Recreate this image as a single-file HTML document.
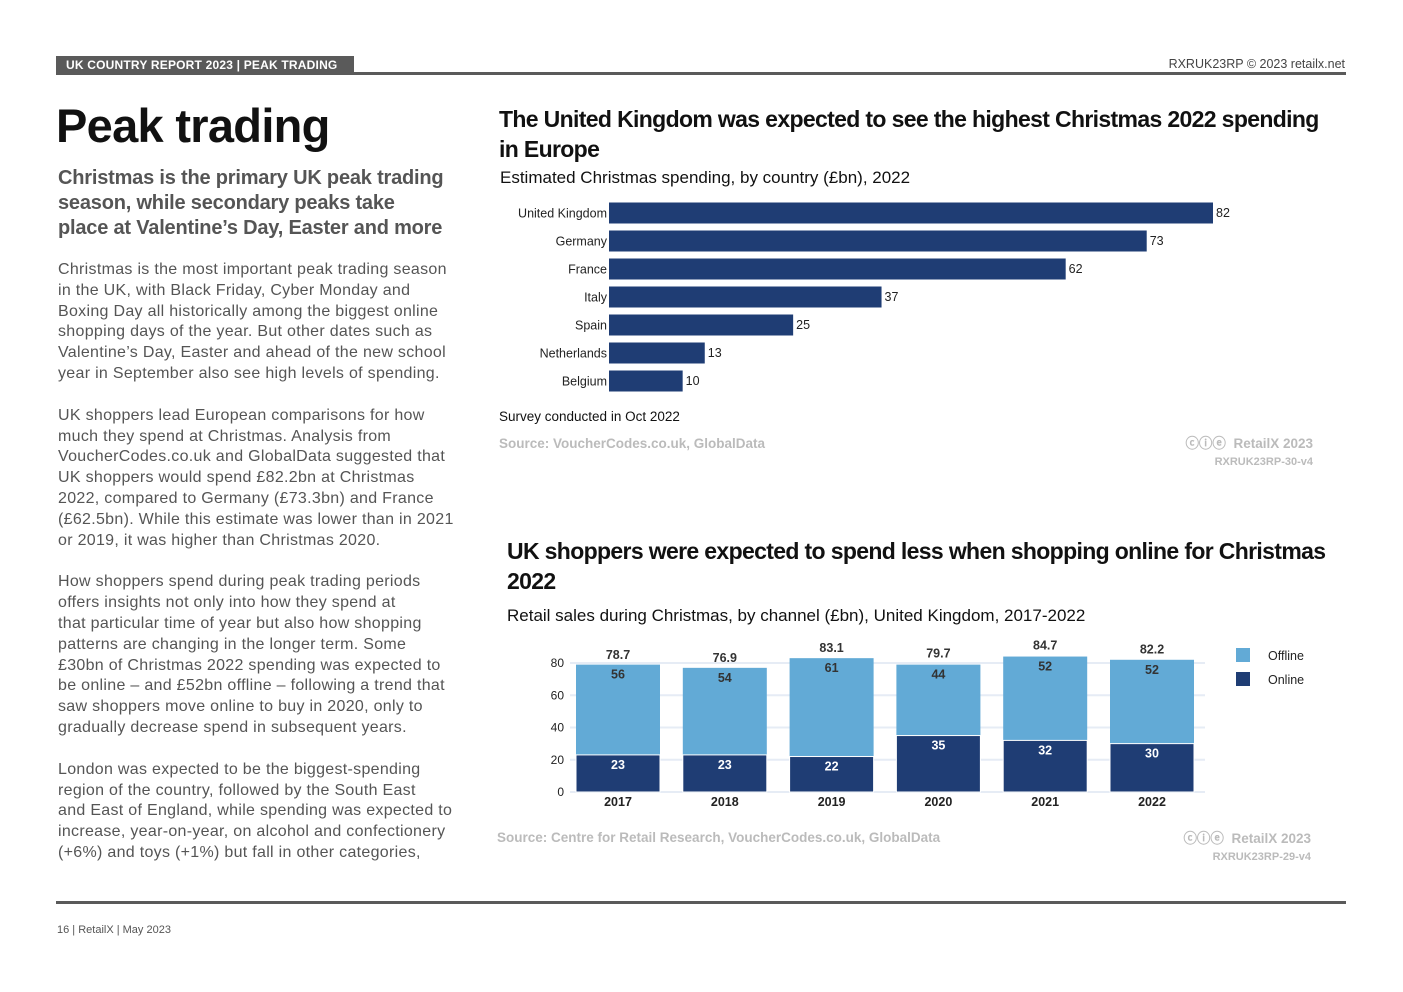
<!DOCTYPE html>
<html><head><meta charset="utf-8">
<style>
body{margin:0;width:1403px;height:992px;background:#fff;position:relative;overflow:hidden;font-family:"Liberation Sans",sans-serif;}
.abs{position:absolute;}
.body p{margin:0 0 21px 0;white-space:nowrap;}
</style></head>
<body>
<div class="abs" style="left:56px;top:56px;width:298px;height:18px;background:#5a5a5a;color:#fff;font-weight:bold;font-size:12px;line-height:18px;padding-left:10px;box-sizing:border-box;letter-spacing:0.2px">UK COUNTRY REPORT 2023 | PEAK TRADING</div>
<div class="abs" style="left:56px;top:72px;width:1290px;height:3px;background:#5a5a5a"></div>
<div class="abs" style="right:58px;top:57px;font-size:12.5px;color:#444">RXRUK23RP © 2023 retailx.net</div>

<div class="abs" style="left:56px;top:98px;font-size:47px;font-weight:bold;color:#111;letter-spacing:-0.7px">Peak trading</div>
<div class="abs" style="left:58px;top:166px;white-space:nowrap;font-size:20px;font-weight:bold;color:#555;line-height:25px;letter-spacing:-0.2px">Christmas is the primary UK peak trading<br>season, while secondary peaks take<br>place at Valentine’s Day, Easter and more</div>
<div class="abs body" style="left:58px;top:260px;font-size:16px;color:#555;line-height:20.8px;letter-spacing:0.3px">
<p>Christmas is the most important peak trading season<br>in the UK, with Black Friday, Cyber Monday and<br>Boxing Day all historically among the biggest online<br>shopping days of the year. But other dates such as<br>Valentine’s Day, Easter and ahead of the new school<br>year in September also see high levels of spending.</p>
<p>UK shoppers lead European comparisons for how<br>much they spend at Christmas. Analysis from<br>VoucherCodes.co.uk and GlobalData suggested that<br>UK shoppers would spend £82.2bn at Christmas<br>2022, compared to Germany (£73.3bn) and France<br>(£62.5bn). While this estimate was lower than in 2021<br>or 2019, it was higher than Christmas 2020.</p>
<p>How shoppers spend during peak trading periods<br>offers insights not only into how they spend at<br>that particular time of year but also how shopping<br>patterns are changing in the longer term. Some<br>£30bn of Christmas 2022 spending was expected to<br>be online – and £52bn offline – following a trend that<br>saw shoppers move online to buy in 2020, only to<br>gradually decrease spend in subsequent years.</p>
<p>London was expected to be the biggest-spending<br>region of the country, followed by the South East<br>and East of England, while spending was expected to<br>increase, year-on-year, on alcohol and confectionery<br>(+6%) and toys (+1%) but fall in other categories,</p>
</div>

<div class="abs" style="left:499px;top:104px;white-space:nowrap;font-size:23px;font-weight:bold;color:#111;line-height:30px;letter-spacing:-0.65px">The United Kingdom was expected to see the highest Christmas 2022 spending<br>in Europe</div>
<div class="abs" style="left:500px;top:168px;font-size:17px;color:#111">Estimated Christmas spending, by country (£bn), 2022</div>
<div class="abs" style="left:499px;top:409px;font-size:13.5px;color:#111">Survey conducted in Oct 2022</div>
<div class="abs" style="left:499px;top:436px;font-size:13.5px;font-weight:bold;color:#bbb">Source: VoucherCodes.co.uk, GlobalData</div>
<div class="abs" style="right:90px;top:435px;font-size:13.5px;font-weight:bold;color:#bbb;text-align:right;line-height:17px">ⓒⓘⓔ&nbsp; RetailX 2023<br><span style="font-size:11px">RXRUK23RP-30-v4</span></div>

<div class="abs" style="left:507px;top:536px;white-space:nowrap;font-size:23px;font-weight:bold;color:#111;line-height:30px;letter-spacing:-0.65px">UK shoppers were expected to spend less when shopping online for Christmas<br>2022</div>
<div class="abs" style="left:507px;top:606px;font-size:17px;color:#111">Retail sales during Christmas, by channel (£bn), United Kingdom, 2017-2022</div>
<div class="abs" style="left:497px;top:830px;font-size:13.5px;font-weight:bold;color:#bbb">Source: Centre for Retail Research, VoucherCodes.co.uk, GlobalData</div>
<div class="abs" style="right:92px;top:830px;font-size:13.5px;font-weight:bold;color:#bbb;text-align:right;line-height:17px">ⓒⓘⓔ&nbsp; RetailX 2023<br><span style="font-size:11px">RXRUK23RP-29-v4</span></div>

<div class="abs" style="left:56px;top:901px;width:1290px;height:3px;background:#5a5a5a"></div>
<div class="abs" style="left:57px;top:924px;font-size:11px;color:#555">16 | RetailX | May 2023</div>

<svg class="abs" id="charts" style="left:0;top:0" width="1403" height="992"></svg>
<script>
const countries=["United Kingdom","Germany","France","Italy","Spain","Netherlands","Belgium"];
const spending=[82,73,62,37,25,13,10];
const years=["2017","2018","2019","2020","2021","2022"];
const online=[23,23,22,35,32,30];
const offline=[56,54,61,44,52,52];
const totals=[78.7,76.9,83.1,79.7,84.7,82.2];
const yTicks=[0,20,40,60,80];
const NS="http://www.w3.org/2000/svg";
const svg=document.getElementById('charts');
function mk(t,a,txt){const e=document.createElementNS(NS,t);for(const k in a)e.setAttribute(k,a[k]);if(txt!==undefined)e.textContent=txt;svg.appendChild(e);return e;}
const F='"Liberation Sans",sans-serif';
// chart 1
const x1=v=>609+v*(604/82);
const y1=i=>213+i*28;
countries.forEach((c,i)=>{
 const b=mk('rect',{x:609,y:y1(i)-10.5,width:x1(spending[i])-609,height:21,fill:'#1f3d74'});
 
 
 const l=mk('text',{x:607,y:y1(i)+4.5,'text-anchor':'end','font-size':12.5,'font-family':F,fill:'#222'},c);
 
 
 const v=mk('text',{x:x1(spending[i])+3,y:y1(i)+4,'font-size':12.5,'font-family':F,fill:'#222'},spending[i]);
 
 
});
// chart 2
const y2=v=>792-v*(129/80);
const xc=i=>618+i*106.8;
yTicks.forEach(t=>{
 const g=mk('line',{x1:570,x2:1205,y1:y2(t),y2:y2(t),stroke:'#e6ecf5','stroke-width':2});
 
 
 const l=mk('text',{x:564,y:y2(t)+4,'text-anchor':'end','font-size':12,'font-family':F,fill:'#222'},t);
 
 
});
years.forEach((yr,i)=>{
 const x=xc(i)-42, top=online[i]+offline[i];
 const bo=mk('rect',{x:x,y:y2(top),width:84,height:y2(online[i])-y2(top),fill:'#62aad6'});
 
 
 const bn=mk('rect',{x:x,y:y2(online[i]),width:84,height:y2(0)-y2(online[i]),fill:'#1f3d74',stroke:'#fff','stroke-width':1});
 
 
 const lo=mk('text',{x:xc(i),y:y2(top)+14,'text-anchor':'middle','font-size':12.5,'font-weight':'bold','font-family':F,fill:'#333'},offline[i]);
 
 
 const ln=mk('text',{x:xc(i),y:y2(online[i])+14,'text-anchor':'middle','font-size':12.5,'font-weight':'bold','font-family':F,fill:'#fff'},online[i]);
 
 
 const lt=mk('text',{x:xc(i),y:y2(totals[i])-6,'text-anchor':'middle','font-size':12.5,'font-weight':'bold','font-family':F,fill:'#333'},totals[i]);
 
 
 const lx=mk('text',{x:xc(i),y:806,'text-anchor':'middle','font-size':12.5,'font-weight':'bold','font-family':F,fill:'#222'},yr);
 
 
});
[["Offline","#62aad6",655],["Online","#1f3d74",679]].forEach(([n,c,y])=>{
 const s=mk('rect',{x:1236,y:y-7,width:14,height:14,fill:c});
 
 
 const t=mk('text',{x:1268,y:y+5,'font-size':12.5,'font-family':F,fill:'#222'},n);
 
 
});
</script>
</body></html>
